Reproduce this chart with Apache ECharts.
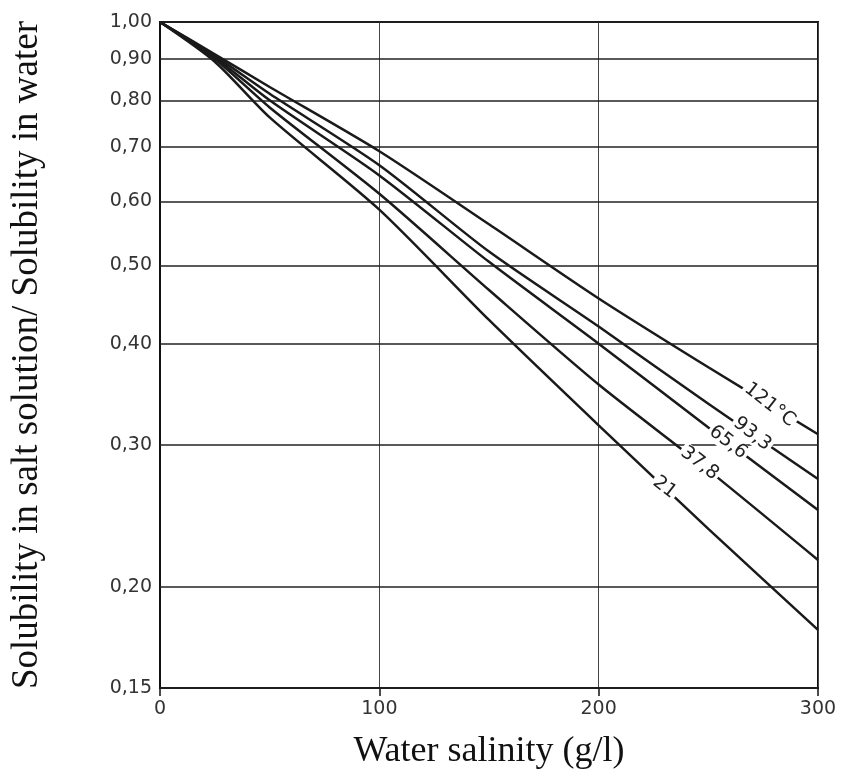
<!DOCTYPE html>
<html>
<head>
<meta charset="utf-8">
<script src="https://cdn.jsdelivr.net/npm/echarts@6/dist/echarts.min.js"></script>
<style>
  html, body { margin: 0; padding: 0; background: #fff; }
  #chart { width: 842px; height: 780px; }
</style>
</head>
<body>
<div id="chart"></div>
<script>
// salinity (g/l) and solubility ratio for each temperature
var salinity = [0, 25, 50, 100, 150, 200, 250, 300];
var t121 = [1.00, 0.912, 0.831, 0.692, 0.562, 0.455, 0.374, 0.309];
var t933 = [1.00, 0.908, 0.815, 0.665, 0.520, 0.420, 0.337, 0.272];
var t656 = [1.00, 0.904, 0.800, 0.646, 0.505, 0.400, 0.315, 0.249];
var t378 = [1.00, 0.900, 0.784, 0.613, 0.466, 0.356, 0.279, 0.216];
var t21  = [1.00, 0.893, 0.762, 0.586, 0.428, 0.317, 0.236, 0.177];

var curveNames = ['121°C', '93,3', '65,6', '37,8', '21'];
var yTicks = [1.00, 0.90, 0.80, 0.70, 0.60, 0.50, 0.40, 0.30, 0.20, 0.15];
var yTickLabels = ['1,00', '0,90', '0,80', '0,70', '0,60', '0,50', '0,40', '0,30', '0,20', '0,15'];

// where along each curve its label sits (salinity)
var labelAt = [278, 270, 259, 246, 230];

var curves = [t121, t933, t656, t378, t21];

// log interpolation on a curve, so the label lands on the line
function valueAt(vals, s) {
  for (var i = 1; i < salinity.length; i++) {
    if (s <= salinity[i]) {
      var f = (s - salinity[i - 1]) / (salinity[i] - salinity[i - 1]);
      return Math.exp(Math.log(vals[i - 1]) + f * (Math.log(vals[i]) - Math.log(vals[i - 1])));
    }
  }
  return vals[vals.length - 1];
}

var myChart = echarts.init(document.getElementById('chart'));

var series = curves.map(function (vals, k) {
  return {
    type: 'line',
    name: curveNames[k],
    data: salinity.map(function (x, i) { return [x, vals[i]]; }),
    symbol: 'none',
    smooth: 0.25,
    z: 3,
    lineStyle: { color: '#1a1a1a', width: 2.5 },
    markPoint: {
      symbol: 'circle',
      symbolSize: 1,
      itemStyle: { color: 'rgba(0,0,0,0)' },
      z: 5,
      label: {
        show: true,
        position: 'inside',
        rotate: -38,
        formatter: curveNames[k],
        fontFamily: 'DejaVu Sans',
        fontSize: 19,
        color: '#222',
        backgroundColor: '#fff',
        padding: [0, 2]
      },
      data: [{ coord: [labelAt[k], valueAt(vals, labelAt[k])] }]
    }
  };
});

// horizontal grid lines with their labels
series[4].markLine = {
  silent: true,
  symbol: ['none', 'none'],
  z: 1,
  lineStyle: { color: '#222', width: 1.5, type: 'solid' },
  label: {
    show: true,
    position: 'start',
    distance: 8,
    fontFamily: 'DejaVu Sans',
    fontSize: 19,
    color: '#333',
    padding: [0, 0, 8, 0]
  },
  data: yTicks.map(function (v, i) {
    return { yAxis: v, label: { formatter: yTickLabels[i] } };
  })
};

var option = {
  animation: false,
  backgroundColor: '#fff',
  grid: {
    left: 160,
    right: 24,
    top: 22,
    bottom: 92,
    outerBoundsMode: 'none',
    show: true,
    borderColor: '#111',
    borderWidth: 2
  },
  xAxis: {
    type: 'value',
    min: 0,
    max: 300,
    interval: 100,
    name: 'Water salinity (g/l)',
    nameLocation: 'middle',
    nameGap: 46,
    nameTextStyle: { fontFamily: 'Liberation Serif', fontSize: 36, color: '#111' },
    axisLine: { show: true, lineStyle: { color: '#111', width: 2 } },
    axisTick: { show: true, length: 8, lineStyle: { color: '#111', width: 1.5 } },
    axisLabel: { fontFamily: 'DejaVu Sans', fontSize: 19, color: '#333', margin: 12 },
    splitLine: { show: true, lineStyle: { color: '#444', width: 1 } }
  },
  yAxis: {
    type: 'log',
    logBase: 10,
    min: 0.15,
    max: 1,
    name: 'Solubility in salt solution/ Solubility in water',
    nameLocation: 'middle',
    nameGap: 114,
    nameTextStyle: { fontFamily: 'Liberation Serif', fontSize: 37, color: '#111' },
    axisLine: { show: true, lineStyle: { color: '#111', width: 2 } },
    axisTick: { show: false },
    axisLabel: { show: false },
    splitLine: { show: false }
  },
  series: series
};

myChart.setOption(option);
window.addEventListener('resize', function () {
  myChart.resize();
});
</script>
</body>
</html>
